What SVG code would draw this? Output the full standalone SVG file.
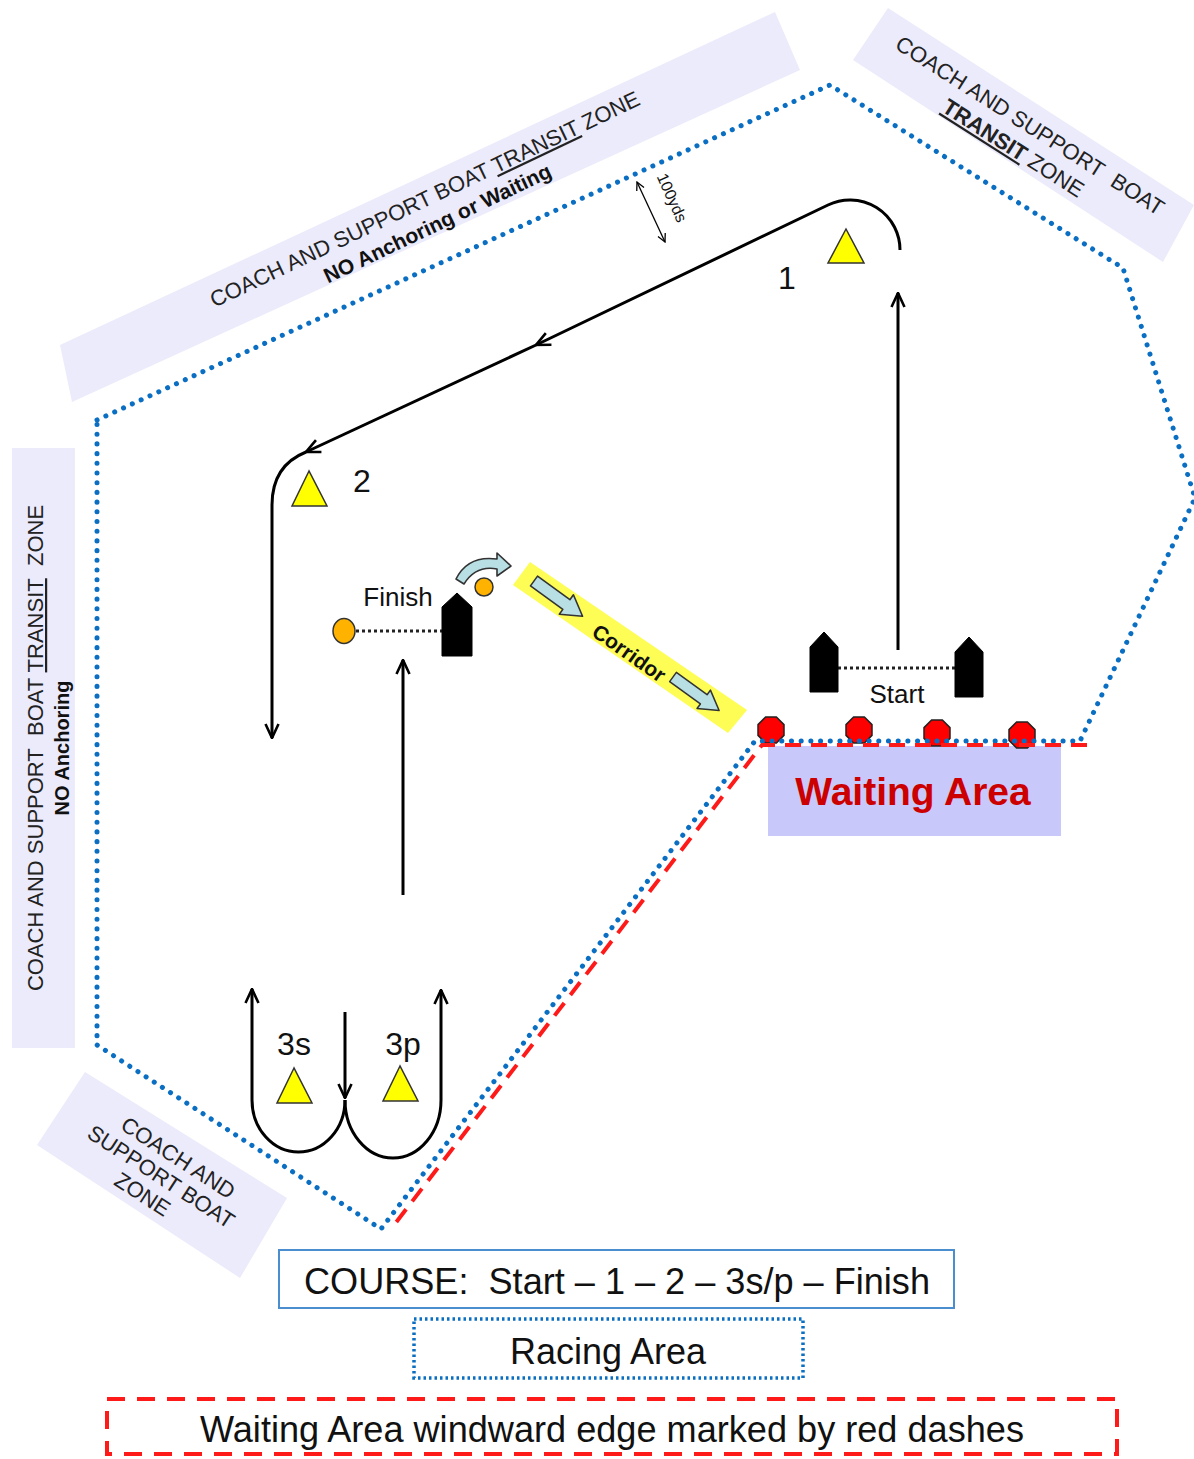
<svg xmlns="http://www.w3.org/2000/svg" width="1194" height="1459" viewBox="0 0 1194 1459">
<style>
text{font-family:'Liberation Sans',Arial,sans-serif;fill:#111}
.band{fill:#ebebfb}
.bt{font-size:22px;fill:#222}
.bb{font-weight:bold;fill:#111}
.u{text-decoration:underline}
.dotb{fill:none;stroke:#0a6fc2;stroke-width:5;stroke-dasharray:0.1 9.6;stroke-linecap:round}
.redd{fill:none;stroke:#ff1a1a;stroke-width:4;stroke-dasharray:16 10}
.mark{fill:#ffff00;stroke:#333;stroke-width:1.5}
.boat{fill:#000;stroke:#000;stroke-width:1;stroke-linejoin:round}
.buoy{fill:#ff0000;stroke:#222;stroke-width:1.5}
.orng{fill:#ffb300;stroke:#333;stroke-width:1.5}
.blk{fill:#b8dfe4;stroke:#333;stroke-width:1.6;stroke-linejoin:round}
.crs{fill:none;stroke:#000;stroke-width:3}
.fl{fill:none;stroke:#222;stroke-width:3;stroke-dasharray:3 3}
.lbl{font-size:32px}
</style>
<defs>
<marker id="arr" viewBox="0 0 16 16" refX="15" refY="8" markerWidth="16" markerHeight="16" markerUnits="userSpaceOnUse" orient="auto">
<path d="M1 1.5 L15 8 L1 14.5" fill="none" stroke="#000" stroke-width="2.6"/>
</marker>
<marker id="sarr" viewBox="0 0 10 10" refX="9" refY="5" markerWidth="10" markerHeight="10" markerUnits="userSpaceOnUse" orient="auto-start-reverse">
<path d="M1 1 L9 5 L1 9" fill="none" stroke="#000" stroke-width="1.3"/>
</marker>
<polygon id="oct" points="5.4,-13 13,-5.4 13,5.4 5.4,13 -5.4,13 -13,5.4 -13,-5.4 -5.4,-13"/>
<path id="barrow" d="M0 -6 L40 -6 L40 -12 L60 0 L40 12 L40 6 L0 6 Z"/>
</defs>

<g id="zone-top-left">
<polygon class="band" points="60,345 775,12 800,70 72,402"/>
<g transform="translate(428,206) rotate(-25.5)">
<text class="bt" text-anchor="middle" x="0" y="0">COACH AND SUPPORT BOAT <tspan class="u">TRANSIT</tspan> ZONE</text>
<text class="bb" font-size="21" text-anchor="middle" x="1" y="27">NO Anchoring or Waiting</text>
</g>
</g>

<g id="zone-top-right">
<polygon class="band" points="853,60 888,8 1194,205 1163,262"/>
<g transform="translate(1026,132) rotate(32.5)">
<text class="bt" text-anchor="middle" x="0" y="0">COACH AND SUPPORT&#160; BOAT</text>
<text class="bt" text-anchor="middle" x="-2" y="28"><tspan class="u" font-weight="bold">TRANSIT</tspan> ZONE</text>
</g>
</g>

<g id="zone-left">
<rect class="band" x="12" y="448" width="63" height="600"/>
<g transform="translate(43,748) rotate(-90)">
<text class="bt" text-anchor="middle" x="0" y="0">COACH AND SUPPORT&#160; BOAT <tspan class="u">TRANSIT</tspan>&#160; ZONE</text>
<text class="bb" font-size="20" text-anchor="middle" x="0" y="26">NO Anchoring</text>
</g>
</g>

<g id="zone-bottom-left">
<polygon class="band" points="37,1145 85,1072 287,1198 240,1278"/>
<g transform="translate(157,1183) rotate(33)">
<text class="bt" font-size="20" text-anchor="middle" x="4" y="-25">COACH AND</text>
<text class="bt" font-size="20" text-anchor="middle" x="0" y="0">SUPPORT BOAT</text>
<text class="bt" font-size="20" text-anchor="middle" x="-6" y="25">ZONE</text>
</g>
</g>

<g id="waiting-area">
<rect x="768" y="746" width="293" height="90" fill="#c8c8fa"/>
<text x="913" y="805" text-anchor="middle" font-size="39" font-weight="bold" style="fill:#cc0000">Waiting Area</text>
</g>

<g id="corridor">
<polygon points="513,585 530,562 747,710 728,733" fill="#fdfd55"/>
<use href="#barrow" class="blk" transform="translate(534,581) rotate(36)"/>
<use href="#barrow" class="blk" transform="translate(673,677) rotate(36) scale(0.95)"/>
<text transform="translate(625,659) rotate(35)" text-anchor="middle" font-size="21" font-weight="bold">Corridor</text>
</g>

<g id="buoys">
<use href="#oct" class="buoy" x="771" y="730"/>
<use href="#oct" class="buoy" x="859" y="730"/>
<use href="#oct" class="buoy" x="937" y="733"/>
<use href="#oct" class="buoy" x="1022" y="735"/>
</g>

<g id="boundaries">
<path class="dotb" d="M97 420 L830 85 L1123 268 L1195 498 L1080 741 L755 741 L381 1229 L97 1045 Z"/>
<path class="redd" d="M1087 745 L762 745 L391 1229"/>
</g>

<g id="mark-1">
<polygon class="mark" points="846,229 828,263 864,263"/>
<text class="lbl" x="787" y="289" text-anchor="middle">1</text>
</g>
<g id="mark-2">
<polygon class="mark" points="309,471 292,506 327,506"/>
<text class="lbl" x="362" y="492" text-anchor="middle">2</text>
</g>
<g id="mark-3s">
<polygon class="mark" points="294,1068 277,1103 312,1103"/>
<text class="lbl" x="294" y="1055" text-anchor="middle">3s</text>
</g>
<g id="mark-3p">
<polygon class="mark" points="400,1066 383,1101 418,1101"/>
<text class="lbl" x="403" y="1055" text-anchor="middle">3p</text>
</g>

<g id="finish">
<line class="fl" x1="356" y1="631" x2="442" y2="631"/>
<ellipse class="orng" cx="344" cy="631" rx="11" ry="12.5"/>
<path class="boat" d="M442 607 L457 593 L472 607 L472 656 L442 656 Z"/>
<circle class="orng" cx="484" cy="587" r="9"/>
<path class="blk" d="M456 579 Q468 555 497 559 L497 553 L511 566 L497 576 L497 569 Q476 565 464 584 Z"/>
<text x="398" y="606" text-anchor="middle" font-size="26">Finish</text>
</g>

<g id="start">
<line class="fl" x1="838" y1="668" x2="955" y2="668"/>
<path class="boat" d="M810 647 L824 632 L838 647 L838 692 L810 692 Z"/>
<path class="boat" d="M955 652 L969 637 L983 652 L983 697 L955 697 Z"/>
<text x="897" y="703" text-anchor="middle" font-size="26">Start</text>
</g>

<g id="distance-100yds">
<line x1="637" y1="182" x2="665" y2="242" stroke="#000" stroke-width="1.3" marker-start="url(#sarr)" marker-end="url(#sarr)"/>
<text transform="translate(667,200) rotate(65.7)" text-anchor="middle" font-size="16">100yds</text>
</g>

<g id="connectors">
<path class="crs" d="M898 650 L898 293" marker-end="url(#arr)"/>
<path class="crs" d="M900 250 A50 50 0 0 0 828 205 L536 345" marker-end="url(#arr)"/>
<path class="crs" d="M536 345 L306 452" marker-end="url(#arr)"/>
<path class="crs" d="M306 452 C286 460 272 475 272 505 L272 738" marker-end="url(#arr)"/>
<path class="crs" d="M345 1012 L345 1098" marker-end="url(#arr)"/>
<path class="crs" d="M345 1100 A46.5 52 0 0 1 252 1100 L252 989" marker-end="url(#arr)"/>
<path class="crs" d="M345 1100 A48 58 0 0 0 441 1100 L441 990" marker-end="url(#arr)"/>
<path class="crs" d="M403 895 L403 660" marker-end="url(#arr)"/>
</g>

<g id="legend-course">
<rect x="279" y="1250" width="675" height="58" fill="#fff" stroke="#4a8ed0" stroke-width="2"/>
<text x="617" y="1294" text-anchor="middle" font-size="37" textLength="626" lengthAdjust="spacingAndGlyphs">COURSE:&#160; Start – 1 – 2 – 3s/p – Finish</text>
</g>
<g id="legend-racing">
<rect x="414" y="1319" width="389" height="59" fill="none" stroke="#0a6fc2" stroke-width="3.5" stroke-dasharray="2.5 3"/>
<text x="608" y="1364" text-anchor="middle" font-size="36" textLength="196" lengthAdjust="spacingAndGlyphs">Racing Area</text>
</g>
<g id="legend-waiting">
<rect x="107" y="1399" width="1010" height="55" fill="none" stroke="#ff1a1a" stroke-width="4" stroke-dasharray="18 12"/>
<text x="612" y="1442" text-anchor="middle" font-size="37" textLength="824" lengthAdjust="spacingAndGlyphs">Waiting Area windward edge marked by red dashes</text>
</g>
</svg>
